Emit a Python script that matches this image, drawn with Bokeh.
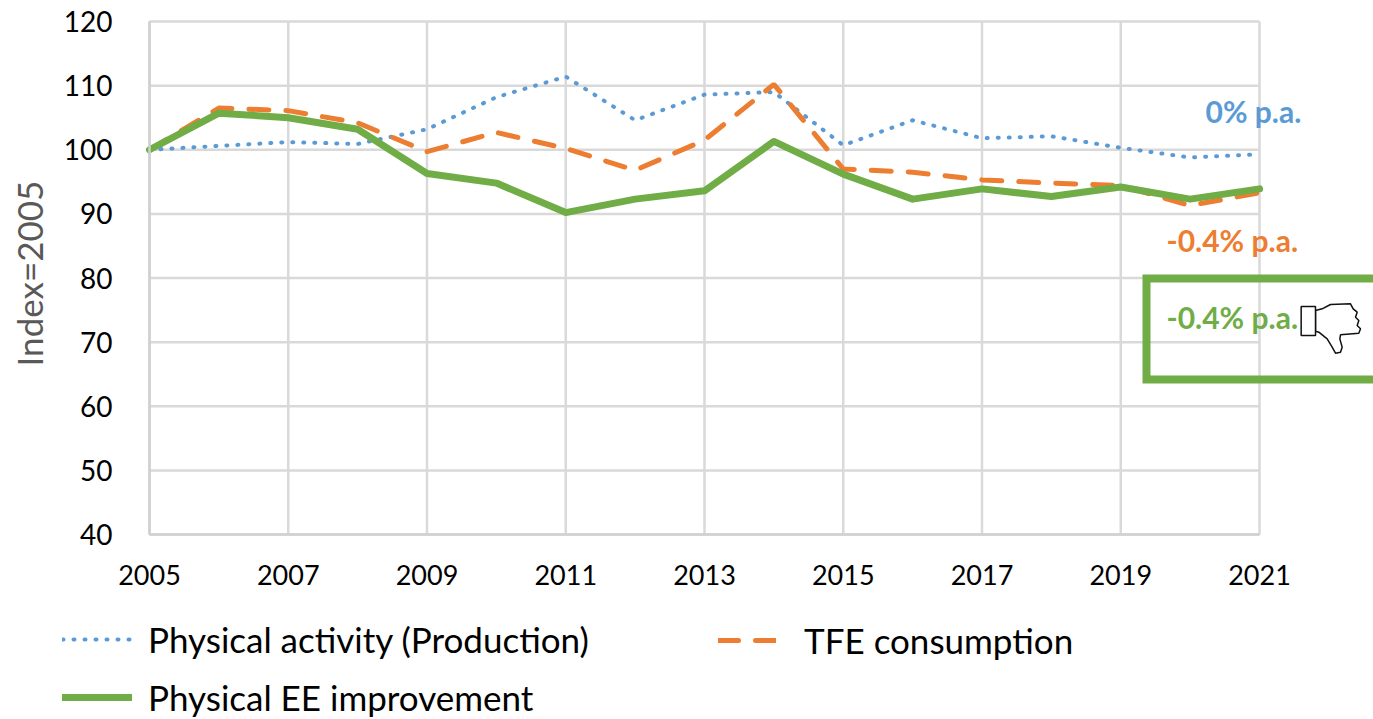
import math
from bokeh.plotting import figure
from bokeh.models import Label, BoxAnnotation, PolyAnnotation, Legend, LegendItem, FixedTicker, Range1d
from bokeh.embed import file_html
from bokeh.resources import INLINE

years = list(range(2005, 2022))
activity = [100, 100.6, 101.2, 100.9, 103.2, 108.2, 111.4, 104.6, 108.6, 109.0, 100.7, 104.6, 101.8, 102.1, 100.3, 98.8, 99.3]
tfe = [100, 106.5, 106.1, 104.2, 99.7, 102.7, 100.2, 96.8, 101.5, 110.2, 97.0, 96.5, 95.3, 94.8, 94.4, 91.3, 93.3]
ee = [100, 105.7, 105.0, 103.2, 96.3, 94.8, 90.2, 92.3, 93.6, 101.3, 96.2, 92.3, 93.9, 92.7, 94.2, 92.3, 93.9]
x_ticks = list(range(2005, 2022, 2))
y_ticks = list(range(40, 121, 10))

FONT = "Lato"
BLUE, ORANGE, GREEN = "#5B9BD5", "#ED7D31", "#70AD47"

L, R, T, B = 149, 1259, 21, 534
W, H = 1373, 719

def dx(px):
    return 2005 + (px - L) / (R - L) * 16

def dy(py):
    return 120 - (py - T) / (B - T) * 80

p = figure(width=W, height=H, output_backend="svg", toolbar_location=None,
           x_range=Range1d(dx(0), dx(W)), y_range=Range1d(dy(H), dy(0)),
           min_border_left=0, min_border_right=0, min_border_top=0, min_border_bottom=0)
p.outline_line_color = None
p.background_fill_color = None
p.border_fill_color = None
p.xgrid.visible = False
p.ygrid.visible = False

for ax, ticks in ((p.xaxis[0], x_ticks), (p.yaxis[0], y_ticks)):
    ax.ticker = FixedTicker(ticks=ticks)
    ax.major_tick_line_color = None
    ax.minor_tick_line_color = None
    ax.axis_line_color = "#D0D0D0"
    ax.axis_line_width = 2.5
    ax.major_label_text_font = FONT
    ax.major_label_text_color = "#000000"
p.xaxis[0].major_label_text_font_size = "27px"
p.yaxis[0].major_label_text_font_size = "28px"
p.xaxis[0].bounds = (2005, 2021)
p.yaxis[0].bounds = (40, 120)
p.xaxis[0].fixed_location = 40
p.yaxis[0].fixed_location = 2005
p.xaxis[0].major_label_standoff = 24
p.yaxis[0].major_label_standoff = 31

# gridlines stop at the plot area, while the frame spans the whole page
p.segment(x0=x_ticks, y0=[40] * len(x_ticks), x1=x_ticks, y1=[120] * len(x_ticks),
          line_color="#D9D9D9", line_width=2.5, level="underlay")
p.segment(x0=[2005] * len(y_ticks), y0=y_ticks, x1=[2021] * len(y_ticks), y1=y_ticks,
          line_color="#D9D9D9", line_width=2.5, level="underlay")

r1 = p.line(years, activity, line_color=BLUE, line_width=4, line_dash="1 10", line_cap="round")
r2 = p.line(years, tfe, line_color=ORANGE, line_width=5, line_dash="20 17", line_cap="round")
r3 = p.line(years, ee, line_color=GREEN, line_width=7, line_cap="round", line_join="round")

def legend(items, px, py, gw, standoff, spacing=0):
    lg = Legend(items=items, location=(px, H - py), orientation="vertical",
                background_fill_alpha=0, border_line_color=None, padding=0, margin=0,
                spacing=spacing, glyph_width=gw, glyph_height=44, label_height=44,
                label_standoff=standoff, label_text_font=FONT, label_text_font_size="35px",
                label_text_color="#000000", label_text_baseline="middle")
    p.add_layout(lg, "center")

legend([LegendItem(label="Physical activity (Production)", renderers=[r1]),
        LegendItem(label="Physical EE improvement", renderers=[r3])], 62, 719, 70, 16, spacing=14)
legend([LegendItem(label="TFE consumption", renderers=[r2])], 718, 662, 58, 28)

p.add_layout(Label(x=dx(28), y=dy(273), text="Index=2005", text_color="#595959", text_font=FONT,
                   text_font_size="35px", text_align="center", text_baseline="middle", angle=math.pi / 2))

def tag(text, px, py, color):
    p.add_layout(Label(x=dx(px), y=dy(py), text=text, text_color=color, text_font=FONT,
                       text_font_size="30px", text_font_style="bold", text_baseline="middle",
                       text_align="left"))

tag("0% p.a.", 1205, 110, BLUE)
tag("-0.4% p.a.", 1166, 239, ORANGE)

p.add_layout(BoxAnnotation(left=dx(1146), right=dx(1420), top=dy(278), bottom=dy(379),
                           fill_alpha=0, line_color=GREEN, line_alpha=1, line_width=8, line_join="miter"))
tag("-0.4% p.a.", 1166, 316, GREEN)

# thumbs-down icon
cuff_x = [512, 555, 555, 512]
cuff_y = [648, 648, 735, 735]
hand_x = [555, 575, 600, 660, 668, 680, 675, 685, 680, 690, 685, 630, 628, 635, 630, 615, 605, 590, 565, 555]
hand_y = [660, 655, 642, 640, 655, 665, 680, 690, 705, 715, 728, 733, 745, 770, 785, 788, 770, 745, 725, 722]
for xs, ys in ((hand_x, hand_y), (cuff_x, cuff_y)):
    p.add_layout(PolyAnnotation(xs=[dx(1130 + v / 3) for v in xs], ys=[dy(90 + v / 3) for v in ys],
                                fill_color="#FFFFFF", fill_alpha=1, line_color="#111111", line_alpha=1,
                                line_width=1.5))

open("out.html", "w").write(file_html(p, INLINE))
